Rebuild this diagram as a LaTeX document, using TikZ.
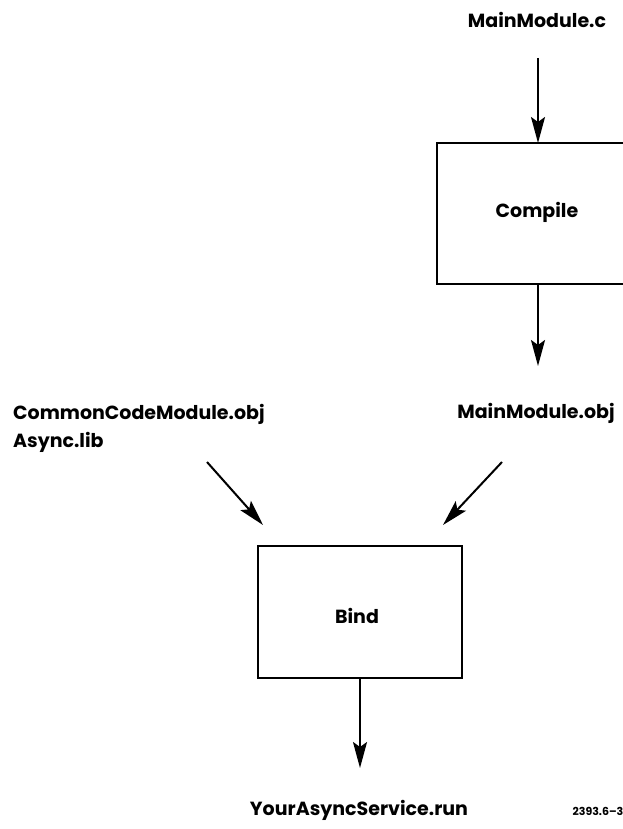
\documentclass[tikz,border=0pt]{standalone}
\usepackage{fontspec}
\setmainfont{Poppins}
\usetikzlibrary{arrows.meta}
\begin{document}
\begin{tikzpicture}[x=1pt,y=-1pt,
  lbl/.style={font=\fontsize{19}{22}\selectfont\bfseries,inner sep=0pt,anchor=base},
  procbox/.style={draw,line width=2pt},
  flow/.style={line width=2pt,-{Stealth[length=26pt,width=14pt,inset=5pt]}}]
  \useasboundingbox (0,0) rectangle (623,829);
  \begin{scope}
    \clip (0,0) rectangle (623,829);
    % Compile box runs off the right edge
    \draw[procbox] (437,143) rectangle (640,284);
  \end{scope}
  \node[lbl] (cmp) at (537,217) {Compile};
  \coordinate (cmpT) at (538,143);
  \coordinate (cmpB) at (538,284);
  \node[lbl] (src) at (537,28) {MainModule.c};
  \node[lbl] (mobj) at (536,418) {MainModule.obj};
  \node[lbl,anchor=base west] (ccm) at (13,419) {CommonCodeModule.obj};
  \node[lbl,anchor=base west] (alib) at (13,447) {Async.lib};
  \node[procbox,minimum width=204pt,minimum height=132pt] (bind) at (360,612) {};
  \node[lbl] at (357,623) {Bind};
  \node[lbl] (run) at (359,815) {YourAsyncService.run};
  \node[lbl,font=\fontsize{11}{12}\selectfont\bfseries] (fig) at (598,815) {2393.6--3};
  \coordinate (a1) at (538,58);
  \coordinate (a2) at (207,462);
  \coordinate (a3) at (502,462);
  \draw[flow] (a1) -- (cmpT);
  \draw[flow] (cmpB) -- (538,366);
  \draw[flow] (a2) -- (263,525);
  \draw[flow] (a3) -- (443,525);
  \draw[flow] (bind.south) -- (360,768);
\end{tikzpicture}
\end{document}
